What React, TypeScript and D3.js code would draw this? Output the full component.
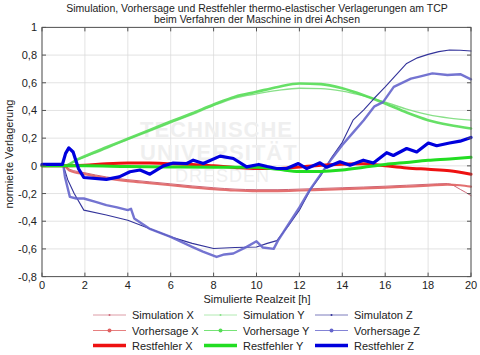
import React from 'react';
import * as d3 from 'd3';

const xTicks = [0, 2, 4, 6, 8, 10, 12, 14, 16, 18, 20];
const yTicks = [-0.8, -0.6, -0.4, -0.2, 0, 0.2, 0.4, 0.6, 0.8, 1];
const yTickLabels = ['-0,8', '-0,6', '-0,4', '-0,2', '0', '0,2', '0,4', '0,6', '0,8', '1'];

const titleLines = [
  'Simulation, Vorhersage und Restfehler thermo-elastischer Verlagerungen am TCP',
  'beim Verfahren der Maschine in drei Achsen',
];
const xLabel = 'Simulierte Realzeit [h]';
const yLabel = 'normierte Verlagerung';

// X axis series
const xHours = [0, 1.0, 1.3, 2, 3, 4, 5, 6, 7, 8, 9, 10, 11, 12, 13, 14, 15, 16, 17, 18, 18.9, 19.5, 20];
const simX = [0, 0, -0.025, -0.05, -0.08, -0.1, -0.115, -0.13, -0.145, -0.158, -0.168, -0.172, -0.172, -0.168, -0.163, -0.158, -0.153, -0.147, -0.14, -0.133, -0.128, -0.17, -0.215];
const vorX = [0, 0, -0.035, -0.06, -0.09, -0.11, -0.125, -0.14, -0.155, -0.168, -0.178, -0.183, -0.182, -0.178, -0.173, -0.168, -0.163, -0.157, -0.15, -0.143, -0.135, -0.14, -0.15];
const restXHours = [0, 1, 2, 3, 4, 5, 6, 7, 8, 9, 10, 11, 12, 13, 14, 15, 16, 17, 18, 19, 20];
const restX = [0, 0, 0.005, 0.015, 0.02, 0.02, 0.015, 0.01, 0.0, -0.012, -0.02, -0.02, -0.008, 0.005, 0.012, 0.015, 0.0, -0.015, -0.025, -0.035, -0.06];

// Y axis series
const yHours = [0, 1.0, 1.7, 3, 4, 5, 6, 7, 8, 9, 10, 11, 12, 13, 14, 15, 16, 17, 18, 19, 20];
const simY = [0, 0, 0.045, 0.125, 0.19, 0.25, 0.31, 0.37, 0.435, 0.49, 0.52, 0.545, 0.56, 0.558, 0.54, 0.505, 0.46, 0.41, 0.37, 0.345, 0.33];
const vorY = [0, 0, 0.05, 0.134, 0.196, 0.258, 0.32, 0.38, 0.443, 0.5, 0.535, 0.57, 0.595, 0.59, 0.56, 0.51, 0.45, 0.385, 0.33, 0.295, 0.27];
const restYHours = [0, 2, 4, 6, 8, 10, 11, 12, 13, 14, 15, 16, 17, 18, 19, 20];
const restY = [0, 0, -0.005, -0.008, -0.01, -0.01, -0.025, -0.04, -0.04, -0.03, -0.01, 0.01, 0.025, 0.04, 0.05, 0.062];

// Z axis series
const simZHours = [0, 1.0, 1.2, 1.5, 1.95, 3, 4, 5, 6, 7, 8, 9, 10, 10.5, 10.95, 11.5, 12, 12.5, 13, 13.5, 14, 14.5, 15, 15.5, 16, 16.5, 17, 17.5, 18, 18.5, 19, 19.5, 20];
const simZ = [0, 0, -0.1, -0.2, -0.32, -0.355, -0.393, -0.453, -0.513, -0.56, -0.597, -0.59, -0.586, -0.56, -0.54, -0.43, -0.32, -0.176, -0.07, 0.06, 0.17, 0.33, 0.405, 0.49, 0.57, 0.655, 0.74, 0.78, 0.805, 0.825, 0.837, 0.835, 0.83];
const vorZHours = [0, 1.0, 1.07, 1.3, 1.6, 1.95, 2.5, 3, 3.5, 4.0, 4.15, 4.3, 5, 6, 7, 7.5, 8.14, 8.5, 8.92, 9.54, 10.0, 10.3, 10.8, 11.0, 11.5, 12, 12.5, 13, 13.5, 14, 14.5, 15, 15.5, 15.9, 16.4, 17.2, 17.6, 18.2, 18.9, 19.5, 20];
const vorZ = [0, 0, -0.08, -0.224, -0.236, -0.236, -0.26, -0.284, -0.3, -0.32, -0.31, -0.38, -0.453, -0.513, -0.585, -0.62, -0.658, -0.64, -0.633, -0.585, -0.545, -0.59, -0.6, -0.54, -0.42, -0.3, -0.17, -0.06, 0.05, 0.15, 0.24, 0.33, 0.43, 0.46, 0.57, 0.63, 0.645, 0.668, 0.656, 0.662, 0.625];
const restZHours = [0, 0.95, 1.1, 1.25, 1.45, 1.7, 1.95, 3.0, 3.6, 4.1, 4.57, 5.03, 5.66, 6.12, 6.75, 7.05, 7.52, 8.3, 8.92, 9.54, 10.1, 10.5, 10.94, 11.41, 11.95, 12.34, 12.96, 13.27, 13.89, 14.36, 14.98, 15.45, 16.07, 16.38, 17.0, 17.47, 18.01, 18.4, 19.0, 19.49, 20];
const restZ = [0.01, 0.01, 0.09, 0.13, 0.1, -0.02, -0.084, -0.098, -0.08, -0.043, -0.03, -0.06, 0.0, 0.02, 0.017, 0.041, 0.017, 0.07, 0.053, -0.007, 0.01, -0.005, -0.019, -0.019, 0.017, -0.02, 0.022, -0.01, 0.029, 0.005, 0.041, 0.02, 0.095, 0.075, 0.125, 0.1, 0.165, 0.145, 0.165, 0.178, 0.205];

const legendNames = [
  ['Simulation X', 'Simulation Y', 'Simulaton Z'],
  ['Vorhersage X', 'Vorhersage Y', 'Vorhersage Z'],
  ['Restfehler X', 'Restfehler Y', 'Restfehler Z'],
];

const watermark = ['TECHNISCHE', 'UNIVERSITÄT', 'DRESDEN'];

const W = 480;
const H = 355;
const FONT = 'Liberation Sans, Arial, sans-serif';

type Style = { color: string; width: number; kind: 'sim' | 'vor' | 'rest' };

const colSim = ['#cc6677', '#88e088', '#33339a'];
const colVor = ['#e06060', '#55dd55', '#6565cc'];
const colRest = ['#ee1111', '#22dd22', '#0000dd'];

export default function App() {
  const x = d3.scaleLinear().domain([0, 20]).range([42, 471]);
  const y = d3.scaleLinear().domain([-0.8, 1]).range([276.6, 27.4]);
  const [x0, x1] = x.range();
  const [y0, y1] = y.range();

  const mk = (hs: number[], vs: number[], curve: d3.CurveFactory = d3.curveMonotoneX) =>
    d3.line<number>().x((_, i) => x(hs[i])).y((v) => y(v)).curve(curve)(vs) || '';

  const series: { d: string; st: Style }[] = [
    { d: mk(xHours, simX), st: { color: colSim[0], width: 1, kind: 'sim' } },
    { d: mk(xHours, vorX), st: { color: colVor[0], width: 2.2, kind: 'vor' } },
    { d: mk(yHours, simY), st: { color: colSim[1], width: 1.4, kind: 'sim' } },
    { d: mk(yHours, vorY), st: { color: colVor[1], width: 2.6, kind: 'vor' } },
    { d: mk(simZHours, simZ, d3.curveLinear), st: { color: colSim[2], width: 1.1, kind: 'sim' } },
    { d: mk(vorZHours, vorZ, d3.curveLinear), st: { color: colVor[2], width: 2.4, kind: 'vor' } },
    { d: mk(restXHours, restX), st: { color: colRest[0], width: 3, kind: 'rest' } },
    { d: mk(restYHours, restY), st: { color: colRest[1], width: 3, kind: 'rest' } },
    { d: mk(restZHours, restZ, d3.curveLinear), st: { color: colRest[2], width: 3.2, kind: 'rest' } },
  ];

  const legendRowsY = [315, 330.5, 345.5];
  const legendColsX = [93, 204, 315];

  return (
    <svg width={W} height={H} style={{ position: 'absolute', left: 0, top: 0, background: '#fff' }} fontFamily={FONT}>
      <rect x={0} y={0} width={W} height={H} fill="#fff" />
      {/* title */}
      {titleLines.map((t, i) => (
        <text key={t} x={257} y={12 + i * 10.5} textAnchor="middle" fontSize={10.5} fill="#222">{t}</text>
      ))}
      {/* grid */}
      {xTicks.map((t) => (
        <line key={'gx' + t} x1={x(t)} x2={x(t)} y1={y0} y2={y1} stroke="#dcdcdc" strokeWidth={0.8} />
      ))}
      {yTicks.map((t) => (
        <line key={'gy' + t} x1={x0} x2={x1} y1={y(t)} y2={y(t)} stroke="#dcdcdc" strokeWidth={0.8} />
      ))}
      {/* watermark */}
      <g fill="#efefef" fontWeight="bold" fontSize={22}>
        <text x={140} y={137} letterSpacing={1}>{watermark[0]}</text>
        <text x={140} y={160} letterSpacing={1}>{watermark[1]}</text>
        <text x={175} y={182} fontWeight="normal" fontSize={18} letterSpacing={1}>{watermark[2]}</text>
      </g>
      {/* series */}
      <g fill="none" strokeLinejoin="round" strokeLinecap="round">
        {series.map((s, i) => (
          <path key={i} d={s.d} stroke={s.st.color} strokeWidth={s.st.width} opacity={s.st.kind === 'vor' ? 0.9 : 1} />
        ))}
      </g>
      {/* frame and ticks */}
      <rect x={x0} y={y1} width={x1 - x0} height={y0 - y1} fill="none" stroke="#555" strokeWidth={1} />
      {xTicks.map((t) => (
        <g key={'tx' + t} stroke="#555">
          <line x1={x(t)} x2={x(t)} y1={y0} y2={y0 - 4} />
          <line x1={x(t)} x2={x(t)} y1={y1} y2={y1 + 4} />
        </g>
      ))}
      {yTicks.map((t) => (
        <g key={'ty' + t} stroke="#555">
          <line x1={x0} x2={x0 + 4} y1={y(t)} y2={y(t)} />
          <line x1={x1} x2={x1 - 4} y1={y(t)} y2={y(t)} />
        </g>
      ))}
      {xTicks.map((t) => (
        <text key={'lx' + t} x={x(t)} y={289} textAnchor="middle" fontSize={11} fill="#222">{t}</text>
      ))}
      {yTicks.map((t, i) => (
        <text key={'ly' + t} x={37} y={y(t) + 4} textAnchor="end" fontSize={11} fill="#222">{yTickLabels[i]}</text>
      ))}
      <text x={257} y={303} textAnchor="middle" fontSize={11} fill="#222">{xLabel}</text>
      <text transform={`translate(13,154) rotate(-90)`} textAnchor="middle" fontSize={11} fill="#222">{yLabel}</text>
      {/* legend */}
      {legendNames.map((row, r) =>
        row.map((name, c) => {
          const lx = legendColsX[c];
          const ly = legendRowsY[r];
          const color = r === 0 ? colSim[c] : r === 1 ? colVor[c] : colRest[c];
          const sw = r === 0 ? 0.8 : r === 1 ? 1 : 3.5;
          return (
            <g key={name}>
              <line x1={lx} x2={lx + 33} y1={ly} y2={ly} stroke={color} strokeWidth={sw} opacity={r === 2 ? 1 : 0.8} />
              {r === 0 && <circle cx={lx + 16.5} cy={ly} r={1} fill={color} />}
              {r === 1 && <circle cx={lx + 16.5} cy={ly} r={2} fill={color} />}
              <text x={lx + 39} y={ly + 4} fontSize={11} fill="#222">{name}</text>
            </g>
          );
        })
      )}
    </svg>
  );
}
